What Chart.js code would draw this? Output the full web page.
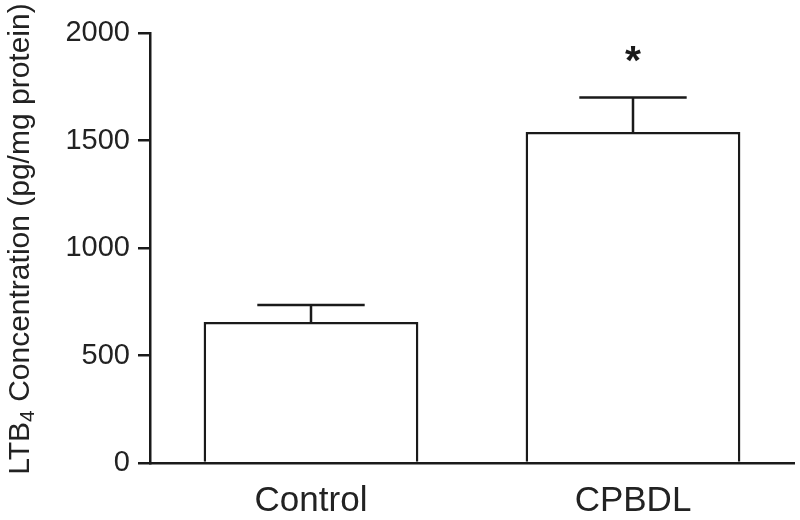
<!DOCTYPE html>
<html>
<head>
<meta charset="utf-8">
<script src="https://cdn.jsdelivr.net/npm/chart.js@4.4.0/dist/chart.umd.min.js"></script>
<style>
  html, body { margin: 0; padding: 0; background: #fff; }
  #wrap { width: 800px; height: 520px; }
</style>
</head>
<body>
<div id="wrap"><canvas id="ltbChart"></canvas></div>
<script>
// data
var groups = ['Control', 'CPBDL'];
var means = [656, 1540];
var errUpper = [735, 1700];
var significance = ['', '*'];
var yTicks = [0, 500, 1000, 1500, 2000];

var ink = '#1a1a1a';
var fontFamily = '"Liberation Sans", Arial, Helvetica, sans-serif';

// draws the upper SEM whisker and the significance mark above each bar
var errorBars = {
	id: 'errorBars',
	afterDatasetsDraw: function(chart){
		var ctx = chart.ctx;
		var yScale = chart.scales.y;
		var meta = chart.getDatasetMeta(0);
		meta.data.forEach(function(bar, i){
			var top = yScale.getPixelForValue(errUpper[i]);
			var half = bar.width * 0.25;
			ctx.save();
			ctx.strokeStyle = ink;
			ctx.lineWidth = 2.5;
			ctx.beginPath();
			ctx.moveTo(bar.x, bar.y);
			ctx.lineTo(bar.x, top);
			ctx.moveTo(bar.x - half, top);
			ctx.lineTo(bar.x + half, top);
			ctx.stroke();
			if(significance[i]){
				ctx.fillStyle = ink;
				ctx.font = 'bold 41px ' + fontFamily;
				ctx.textAlign = 'center';
				ctx.textBaseline = 'alphabetic';
				ctx.fillText(significance[i], bar.x, top - 24);
			}
			ctx.restore();
		});
	}
};

// y title with a real subscript (LTB4), rotated along the axis
var yTitle = {
	id: 'yTitle',
	afterDraw: function(chart){
		var ctx = chart.ctx;
		var parts = [
			{ text: 'LTB', size: 30, dy: 0 },
			{ text: '4', size: 21, dy: 5 },
			{ text: ' Concentration (pg/mg protein)', size: 30, dy: 0 }
		];
		ctx.save();
		ctx.fillStyle = '#222';
		ctx.textBaseline = 'alphabetic';
		ctx.textAlign = 'left';
		var total = 0;
		parts.forEach(function(p){
			ctx.font = p.size + 'px ' + fontFamily;
			p.w = ctx.measureText(p.text).width;
			total += p.w;
		});
		ctx.translate(29, 239);
		ctx.rotate(-Math.PI / 2);
		var x = -total / 2;
		parts.forEach(function(p){
			ctx.font = p.size + 'px ' + fontFamily;
			ctx.fillText(p.text, x, p.dy);
			x += p.w;
		});
		ctx.restore();
	}
};

var ctx = document.getElementById('ltbChart');
var chart = new Chart(ctx, {
	type: 'bar',
	data: {
		labels: groups,
		datasets: [{
			data: means,
			backgroundColor: '#ffffff',
			borderColor: ink,
			borderWidth: 2.5,
			borderSkipped: 'start',
			categoryPercentage: 1.0,
			barPercentage: 0.667
		}]
	},
	options: {
		responsive: true,
		maintainAspectRatio: false,
		animation: false,
		layout: { padding: { left: 0, right: 6, top: 33, bottom: 0 } },
		plugins: {
			legend: { display: false },
			tooltip: { enabled: false }
		},
		scales: {
			x: {
				grid: { display: true, drawOnChartArea: false, drawTicks: false },
				border: { display: true, color: ink, width: 2.5 },
				ticks: {
					color: '#222',
					font: { family: fontFamily, size: 35 },
					padding: 17
				},
				afterFit: function(scale){ scale.height = 57; }
			},
			y: {
				min: 0,
				max: 2000,
				afterBuildTicks: function(scale){
					scale.ticks = yTicks.map(function(v){ return { value: v }; });
				},
				grid: {
					display: true,
					drawOnChartArea: false,
					drawTicks: true,
					tickLength: 12,
					color: ink,
					lineWidth: 2.5
				},
				border: { display: true, color: ink, width: 2.5 },
				ticks: {
					color: '#222',
					font: { family: fontFamily, size: 29 },
					padding: 8,
					callback: function(v){ return String(v); }
				},
				afterFit: function(scale){ scale.width = 150; }
			}
		}
	},
	plugins: [errorBars, yTitle]
});
</script>
</body>
</html>
